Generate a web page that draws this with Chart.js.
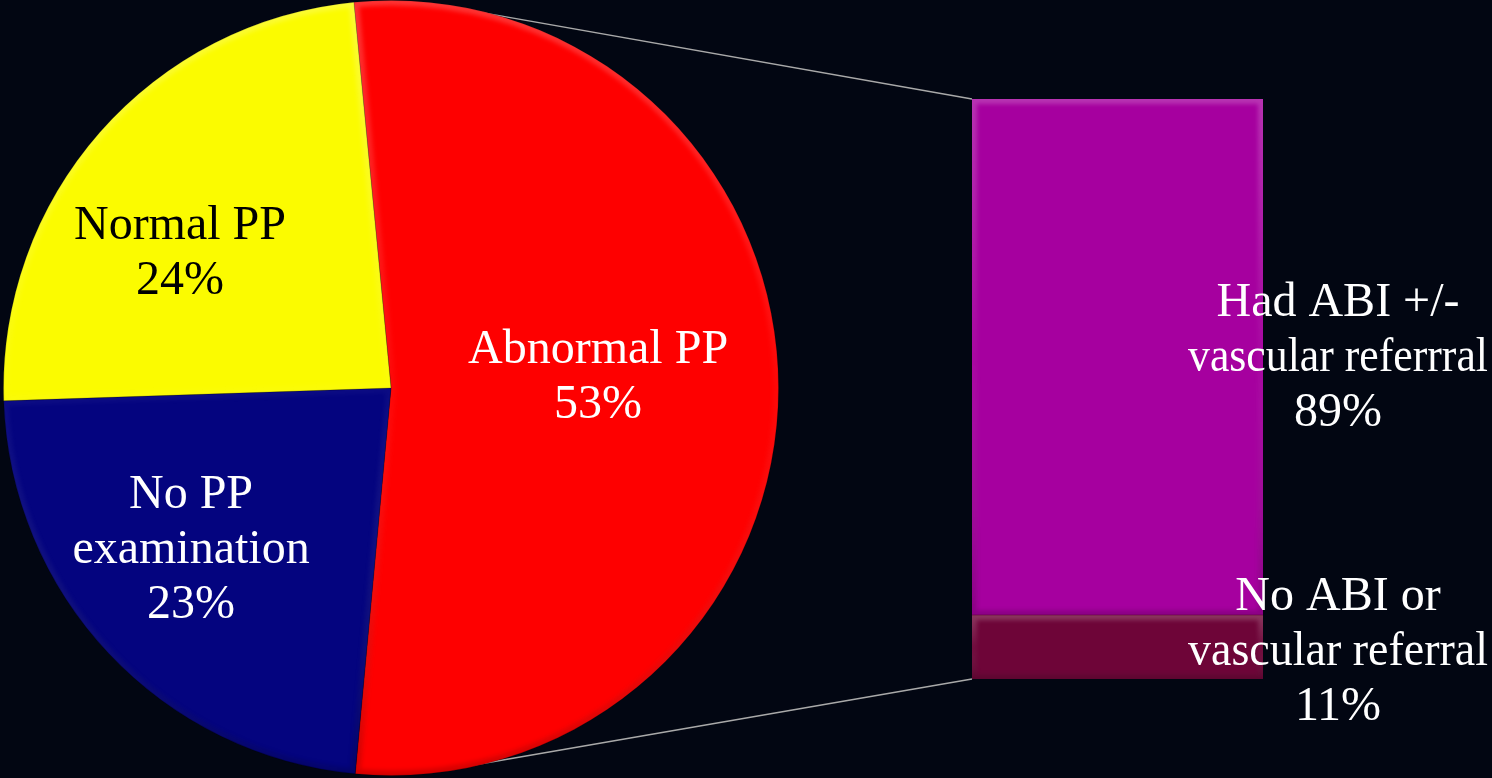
<!DOCTYPE html>
<html>
<head>
<meta charset="utf-8">
<script src="https://cdn.jsdelivr.net/npm/chart.js@4.4.1/dist/chart.umd.min.js"></script>
<style>
  html, body { margin: 0; padding: 0; background: #020612; overflow: hidden; }
  #wrap { position: relative; width: 1492px; height: 778px; }
  #wrap canvas { position: absolute; left: 0; top: 0; }
</style>
</head>
<body>
<div id="wrap">
  <canvas id="barChart" width="1492" height="778"></canvas>
  <canvas id="pieChart" width="1492" height="778"></canvas>
</div>
<script>
// pie slices, clockwise from the top
const pieLabels = [['Abnormal PP'], ['No PP', 'examination'], ['Normal PP']];
const pieValues = [53, 23, 24];
const pieColors = ['#fe0000', '#04047f', '#fbfb00'];
const pieTextColors = ['#ffffff', '#ffffff', '#000000'];

// breakdown bar, stacked bottom to top
const barLabels = [['No ABI or', 'vascular referral'], ['Had ABI +/-', 'vascular referrral']];
const barValues = [11, 89];
const barColors = ['#6e0538', '#a6009f'];

const FONT = '48px "Liberation Serif", "Times New Roman", serif';
const LINE_H = 55;

function drawLines(ctx, lines, x, y, color, maxW) {
  ctx.save();
  ctx.font = FONT;
  ctx.fillStyle = color;
  ctx.textAlign = 'center';
  ctx.textBaseline = 'middle';
  const top = y - (lines.length - 1) * LINE_H / 2;
  lines.forEach((t, i) => {
    if (maxW) ctx.fillText(t, x, top + i * LINE_H, maxW);
    else ctx.fillText(t, x, top + i * LINE_H);
  });
  ctx.restore();
}

// soft rim light/shade inside a shape
function bevel(ctx, path, y0, y1, w) {
  ctx.save();
  path();
  ctx.clip();
  const g = ctx.createLinearGradient(0, y0, 0, y1);
  g.addColorStop(0, 'rgba(255,255,255,0.2)');
  g.addColorStop(0.5, 'rgba(255,255,255,0.03)');
  g.addColorStop(1, 'rgba(0,0,0,0.16)');
  ctx.strokeStyle = g;
  ctx.lineWidth = w;
  ctx.filter = 'blur(2px)';
  path();
  ctx.stroke();
  ctx.restore();
}

// label placement per slice: [fraction of radius, angle nudge in degrees]
const pieLabelPos = [[0.535, -2.7], [0.665, 4.2], [0.645, -8.9]];

const pieText = {
  id: 'pieText',
  afterDatasetsDraw(chart) {
    const ctx = chart.ctx;
    const arcs = chart.getDatasetMeta(0).data;
    arcs.forEach(arc => {
      bevel(ctx, () => {
        ctx.beginPath();
        ctx.moveTo(arc.x, arc.y);
        ctx.arc(arc.x, arc.y, arc.outerRadius, arc.startAngle, arc.endAngle);
        ctx.closePath();
      }, arc.y - arc.outerRadius, arc.y + arc.outerRadius, 10);
    });
    arcs.forEach((arc, i) => {
      const [frac, nudge] = pieLabelPos[i];
      const mid = (arc.startAngle + arc.endAngle) / 2 + nudge * Math.PI / 180;
      const r = arc.outerRadius * frac;
      const x = arc.x + Math.cos(mid) * r;
      const y = arc.y + Math.sin(mid) * r;
      drawLines(ctx, [...pieLabels[i], pieValues[i] + '%'], x, y, pieTextColors[i]);
    });
  }
};

const pieChart = new Chart(document.getElementById('pieChart'), {
  type: 'pie',
  data: {
    labels: pieLabels.map(l => l.join(' ')),
    datasets: [{
      data: pieValues,
      backgroundColor: pieColors,
      borderColor: 'rgba(0,0,0,0.2)',
      borderWidth: 1
    }]
  },
  options: {
    responsive: false,
    animation: false,
    rotation: -5.5,
    layout: { padding: { left: 3, right: 713, top: 0, bottom: 2 } },
    plugins: { legend: { display: false }, tooltip: { enabled: false } }
  },
  plugins: [pieText]
});

// thin grey lines from the bar corners, tangent to the pie
const connectors = {
  id: 'connectors',
  beforeDatasetsDraw(chart) {
    const arc = pieChart.getDatasetMeta(0).data[0];
    const cx = arc.x, cy = arc.y, R = arc.outerRadius;
    const metas = [chart.getDatasetMeta(0).data[0], chart.getDatasetMeta(barValues.length - 1).data[0]];
    const left = metas[0].x - metas[0].width / 2;
    const corners = [[left, metas[1].y, -1], [left, metas[0].base, 1]];
    const ctx = chart.ctx;
    ctx.save();
    ctx.strokeStyle = '#a9a9a9';
    ctx.lineWidth = 1.5;
    corners.forEach(([px, py, side]) => {
      const d = Math.hypot(px - cx, py - cy);
      const phi = Math.atan2(py - cy, px - cx);
      const t = phi + side * Math.acos(R / d);
      ctx.beginPath();
      ctx.moveTo(px, py);
      ctx.lineTo(cx + Math.cos(t) * (R - 2), cy + Math.sin(t) * (R - 2));
      ctx.stroke();
    });
    ctx.restore();
  }
};

const barText = {
  id: 'barText',
  afterDatasetsDraw(chart) {
    const ctx = chart.ctx;
    barValues.forEach((v, i) => {
      const bar = chart.getDatasetMeta(i).data[0];
      const left = bar.x - bar.width / 2;
      bevel(ctx, () => {
        ctx.beginPath();
        ctx.rect(left, bar.y, bar.width, bar.base - bar.y);
      }, bar.y, bar.base, 10);
    });
    barValues.forEach((v, i) => {
      const bar = chart.getDatasetMeta(i).data[0];
      const x = bar.x + bar.width / 2 + 75;
      const y = (bar.y + bar.base) / 2 + (i === 0 ? 5 : 1);
      drawLines(ctx, [...barLabels[i], v + '%'], x, y, '#ffffff', 300);
    });
  }
};

new Chart(document.getElementById('barChart'), {
  type: 'bar',
  data: {
    labels: [''],
    datasets: barValues.map((v, i) => ({
      label: barLabels[i].join(' '),
      data: [v],
      backgroundColor: barColors[i],
      borderWidth: 0,
      barPercentage: 1,
      categoryPercentage: 1
    }))
  },
  options: {
    responsive: false,
    animation: false,
    layout: { padding: { left: 972, right: 229, top: 99, bottom: 99 } },
    scales: {
      x: { stacked: true, display: false },
      y: { stacked: true, display: false, min: 0, max: 100 }
    },
    plugins: { legend: { display: false }, tooltip: { enabled: false } }
  },
  plugins: [connectors, barText]
});
</script>
</body>
</html>
